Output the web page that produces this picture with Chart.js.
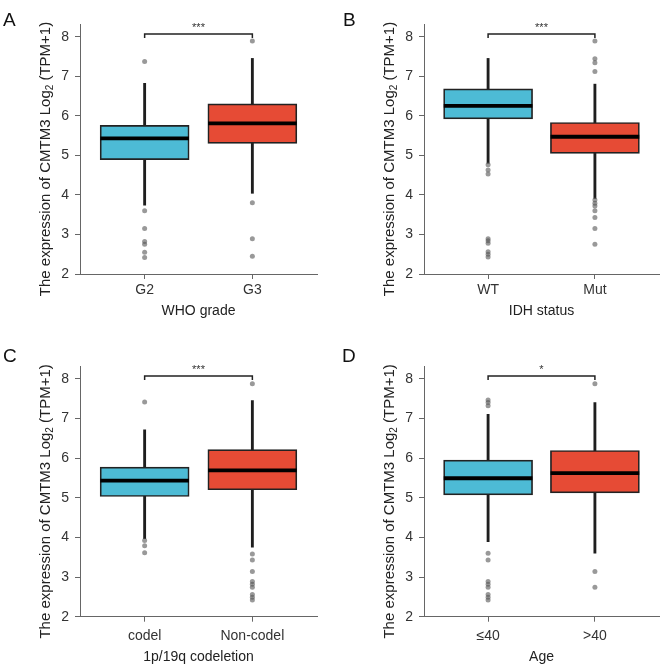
<!DOCTYPE html>
<html>
<head>
<meta charset="utf-8">
<script src="https://cdn.jsdelivr.net/npm/chart.js@4.4.0/dist/chart.umd.min.js"></script>
<style>
  body { margin: 0; background: #fff; }
  #fig { position: relative; width: 663px; height: 668px; font-family: "Liberation Sans", Arial, sans-serif; }
  .panel { position: absolute; }
  .letter { position: absolute; font-size: 19px; line-height: 1; color: #111; }
</style>
</head>
<body>
<div id="fig">
  <div class="panel" style="left:0;top:0;width:331px;height:334px"><canvas id="c0"></canvas></div>
  <div class="panel" style="left:331px;top:0;width:332px;height:334px"><canvas id="c1"></canvas></div>
  <div class="panel" style="left:0;top:334px;width:331px;height:334px"><canvas id="c2"></canvas></div>
  <div class="panel" style="left:331px;top:334px;width:332px;height:334px"><canvas id="c3"></canvas></div>
  <div class="letter" style="left:3px;top:10px">A</div>
  <div class="letter" style="left:343px;top:10px">B</div>
  <div class="letter" style="left:3px;top:346px">C</div>
  <div class="letter" style="left:342px;top:346px">D</div>
</div>
<script>
// data, one entry per panel, two groups each
const axisTitles = ["WHO grade", "IDH status", "1p/19q codeletion", "Age"];
const groupLabels = [["G2", "G3"], ["WT", "Mut"], ["codel", "Non-codel"], ["≤40", ">40"]];
const q1 = [[4.89, 5.30], [5.92, 5.05], [5.03, 5.20], [5.07, 5.12]];
const medians = [[5.43, 5.81], [6.25, 5.47], [5.43, 5.69], [5.49, 5.62]];
const q3 = [[5.76, 6.30], [6.68, 5.83], [5.77, 6.21], [5.95, 6.19]];
const whiskerLow = [[3.74, 4.04], [4.80, 3.91], [3.97, 3.75], [3.89, 3.60]];
const whiskerHigh = [[6.82, 7.45], [7.45, 6.80], [6.71, 7.45], [7.10, 7.40]];
const outliers = [
  [[7.37, 3.60, 3.15, 2.82, 2.75, 2.55, 2.42], [7.89, 3.80, 2.89, 2.45]],
  [[4.76, 4.63, 4.53, 2.89, 2.84, 2.78, 2.56, 2.50, 2.43], [7.89, 7.44, 7.34, 7.12, 3.87, 3.79, 3.72, 3.60, 3.43, 3.15, 2.75]],
  [[7.41, 3.92, 3.79, 3.61], [7.87, 3.58, 3.43, 3.14, 2.89, 2.82, 2.74, 2.56, 2.49, 2.42]],
  [[7.46, 7.40, 7.32, 3.60, 3.43, 2.89, 2.82, 2.74, 2.56, 2.49, 2.42], [7.87, 3.14, 2.74]]
];
const sigLabels = ["***", "***", "***", "*"];
const yTicks = [2, 3, 4, 5, 6, 7, 8];

const boxColors = ["#4DBBD5", "#E64B35"];
const FONT = '"Liberation Sans", Arial, sans-serif';

// layout of each panel (pixels)
const layouts = [
  { pad: { left: 40, right: 14, top: 24, bottom: 14 }, xh: 46, tickPad: 3 },
  { pad: { left: 53, right: 0, top: 24, bottom: 14 }, xh: 46, tickPad: 3 },
  { pad: { left: 40, right: 14, top: 32, bottom: 2.3 }, xh: 49, tickPad: 6 },
  { pad: { left: 53, right: 0, top: 32, bottom: 2.3 }, xh: 49, tickPad: 6 }
];

const extras = {
  id: "extras",
  afterDraw(chart, args, opts) {
    const { ctx, chartArea, scales } = chart;
    const p = opts.panel;
    // y axis title with a real subscript
    ctx.save();
    ctx.translate(chartArea.left - 35, (chartArea.top + chartArea.bottom) / 2 + 10);
    ctx.rotate(-Math.PI / 2);
    ctx.fillStyle = "#222";
    ctx.textBaseline = "alphabetic";
    const mainFont = "15px " + FONT, subFont = "10px " + FONT;
    const parts = [["The expression of CMTM3 Log", mainFont, 0], ["2", subFont, 3], [" (TPM+1)", mainFont, 0]];
    let total = 0;
    parts.forEach(pt => { ctx.font = pt[1]; total += ctx.measureText(pt[0]).width; });
    let x = -total / 2;
    parts.forEach(pt => {
      ctx.font = pt[1];
      ctx.fillText(pt[0], x, 5 + pt[2]);
      x += ctx.measureText(pt[0]).width;
    });
    ctx.restore();

    // significance bracket
    const x1 = scales.x.getPixelForValue(1), x2 = scales.x.getPixelForValue(2);
    const yTop = scales.y.getPixelForValue(8.07);
    ctx.save();
    ctx.strokeStyle = "#222";
    ctx.lineWidth = 1.5;
    ctx.beginPath();
    ctx.moveTo(x1, yTop + 4);
    ctx.lineTo(x1, yTop);
    ctx.lineTo(x2, yTop);
    ctx.lineTo(x2, yTop + 4);
    ctx.stroke();
    ctx.fillStyle = "#333";
    ctx.font = "11px " + FONT;
    ctx.textAlign = "center";
    ctx.textBaseline = "middle";
    ctx.fillText(sigLabels[p], (x1 + x2) / 2, yTop - 6);
    ctx.restore();
  }
};

function makeChart(p) {
  const lay = layouts[p];
  const idx = [0, 1];
  const datasets = [
    {
      type: "bar",
      data: idx.map(i => ({ x: i + 1, y: [whiskerLow[p][i], whiskerHigh[p][i]] })),
      backgroundColor: "#1e1e1e",
      barThickness: 2.2,
      grouped: false,
      order: 3
    },
    {
      type: "bar",
      data: idx.map(i => ({ x: i + 1, y: [q1[p][i], q3[p][i]] })),
      backgroundColor: boxColors,
      borderColor: "#222",
      borderWidth: 1.7,
      borderSkipped: false,
      barThickness: 89,
      grouped: false,
      order: 2
    },
    {
      type: "bar",
      data: idx.map(i => ({ x: i + 1, y: [medians[p][i] - 0.04, medians[p][i] + 0.04] })),
      backgroundColor: "#000",
      barThickness: 88,
      grouped: false,
      order: 1
    },
    {
      type: "scatter",
      data: idx.flatMap(i => outliers[p][i].map(v => ({ x: i + 1, y: v }))),
      backgroundColor: "rgba(85,85,85,0.6)",
      borderWidth: 0,
      pointRadius: 2.5,
      order: 0
    }
  ];

  return new Chart(document.getElementById("c" + p), {
    type: "bar",
    data: { datasets },
    plugins: [extras],
    options: {
      responsive: true,
      maintainAspectRatio: false,
      animation: false,
      layout: { padding: lay.pad },
      plugins: {
        legend: { display: false },
        tooltip: { enabled: false },
        extras: { panel: p }
      },
      scales: {
        x: {
          type: "linear",
          offset: false,
          bounds: "data",
          min: 0.4,
          max: 2.6,
          afterDataLimits: s => { s.min = 0.4; s.max = 2.6; },
          afterBuildTicks: s => { s.ticks = groupLabels[p].map((g, i) => ({ value: i + 1 })); },
          afterFit: s => { s.height = lay.xh; },
          ticks: {
            callback: (v, i) => groupLabels[p][i],
            font: { size: 14, family: FONT },
            color: "#333",
            padding: lay.tickPad,
            maxRotation: 0
          },
          grid: { offset: false, drawOnChartArea: false, tickLength: 5, color: "#666" },
          border: { color: "#666", width: 1 },
          title: { display: true, text: axisTitles[p], font: { size: 14, family: FONT }, color: "#222", padding: 0 }
        },
        y: {
          min: 2,
          max: 8.32,
          afterBuildTicks: s => { s.ticks = yTicks.map(v => ({ value: v })); },
          afterFit: s => { s.width = 40; },
          ticks: { font: { size: 14, family: FONT }, color: "#333", padding: 6 },
          grid: { drawOnChartArea: false, tickLength: 5, color: "#666" },
          border: { color: "#666", width: 1 }
        }
      }
    }
  });
}

[0, 1, 2, 3].forEach(makeChart);
</script>
</body>
</html>
